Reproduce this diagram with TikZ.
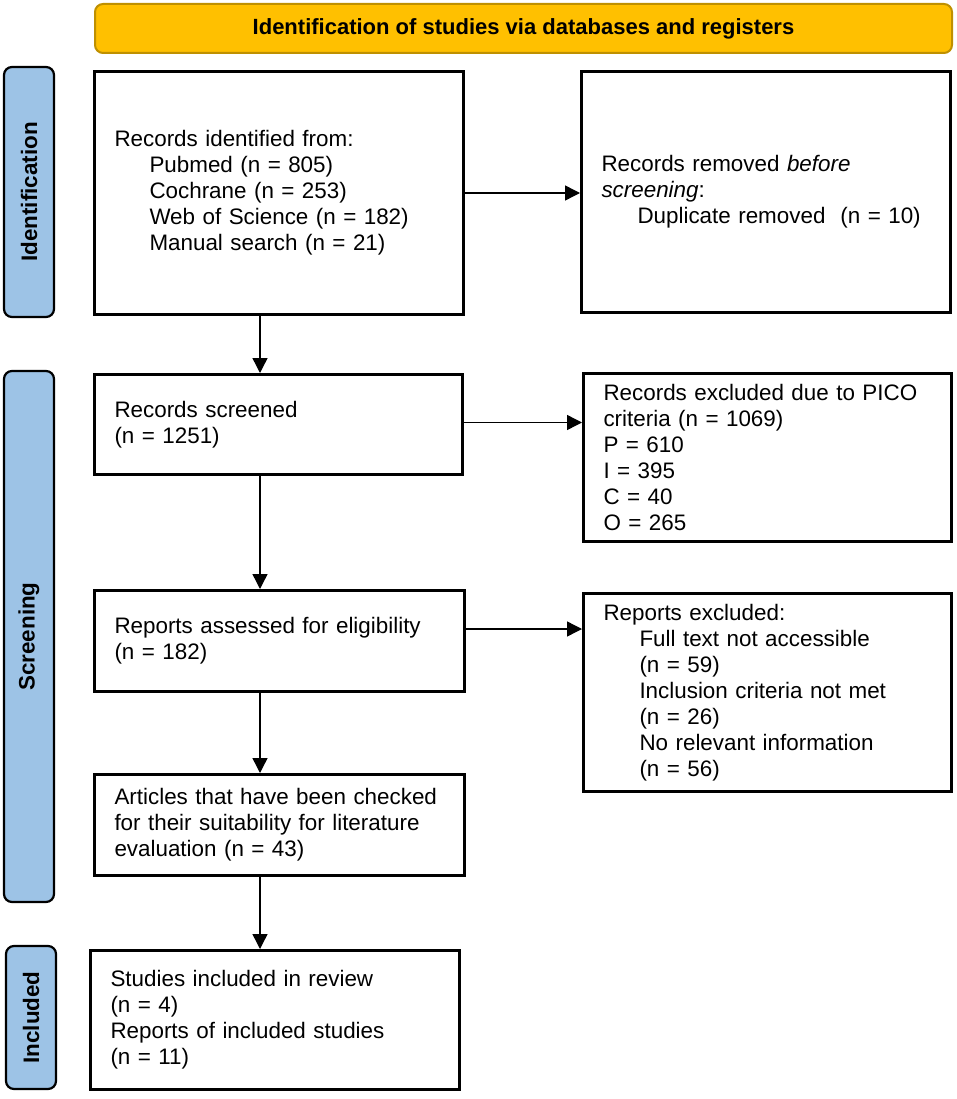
\documentclass[tikz,border=0pt]{standalone}
\usepackage{fontspec}
\setmainfont{Liberation Sans}
\usetikzlibrary{arrows.meta}
\definecolor{bannerfill}{HTML}{FFC000}
\definecolor{bannerdraw}{HTML}{BF9000}
\definecolor{sidefill}{HTML}{9DC3E6}
\begin{document}
\begin{tikzpicture}[x=1pt,y=-1pt,
  box/.style={draw=black, line width=3pt, inner xsep=20pt, inner ysep=4pt, align=left,
    font=\fontsize{22.4pt}{26pt}\selectfont},
  side/.style={draw=black, fill=sidefill, line width=2.2pt, rounded corners=8pt, rotate=90,
    font=\bfseries\fontsize{22.4pt}{26pt}\selectfont, minimum height=50pt, inner sep=0pt},
  arr/.style={line width=1.4pt, -{Triangle[length=15pt,width=15pt]}}]
\useasboundingbox (0,0) rectangle (957,1099);

\node[draw=bannerdraw, fill=bannerfill, line width=2pt, rounded corners=8pt,
  minimum width=857pt, minimum height=49pt, inner sep=0pt,
  font=\bfseries\fontsize{22pt}{26pt}\selectfont] (banner) at (523.5,28.5)
  {Identification of studies via databases and registers};

\node[side, minimum width=250pt] (sid) at (29,192) {Identification};
\node[side, minimum width=531pt] (sscr) at (29,636.5) {Screening};
\node[side, minimum width=143pt] (sinc) at (31,1017.5) {Included};

\node[box, minimum width=369pt, minimum height=243pt, text width=329pt] (b1) at (279,193)
  {Records identified from:\\
   \hspace*{35pt}Pubmed (n = 805)\\
   \hspace*{35pt}Cochrane (n = 253)\\
   \hspace*{35pt}Web of Science (n = 182)\\
   \hspace*{35pt}Manual search (n = 21)};

\node[box, minimum width=369pt, minimum height=241pt, text width=329pt] (b2) at (766,192)
  {Records removed \textit{before}\\
   \textit{screening}:\\
   \hspace*{36pt}Duplicate removed\ \ (n = 10)};

\node[box, minimum width=368pt, minimum height=100pt, text width=328pt] (b3) at (278.5,424.5)
  {Records screened\\(n = 1251)};

\node[box, minimum width=368pt, minimum height=168pt, text width=328pt] (ex) at (767.5,457.5)
  {Records excluded due to PICO\\
   criteria (n = 1069)\\
   P = 610\\
   I = 395\\
   C = 40\\
   O = 265};

\node[box, minimum width=370pt, minimum height=101pt, text width=330pt] (b4) at (279.5,641)
  {Reports assessed for eligibility\\(n = 182)};

\node[box, minimum width=368pt, minimum height=198pt, text width=328pt] (b6) at (767.5,692.5)
  {Reports excluded:\\
   \hspace*{36pt}Full text not accessible\\
   \hspace*{36pt}(n = 59)\\
   \hspace*{36pt}Inclusion criteria not met\\
   \hspace*{36pt}(n = 26)\\
   \hspace*{36pt}No relevant information\\
   \hspace*{36pt}(n = 56)};

\node[box, minimum width=370pt, minimum height=101pt, text width=330pt] (b5) at (279.5,825)
  {Articles that have been checked\\
   for their suitability for literature\\
   evaluation (n = 43)};

\node[box, minimum width=369pt, minimum height=139pt, text width=329pt] (b7) at (275,1020)
  {Studies included in review\\
   (n = 4)\\
   Reports of included studies\\
   (n = 11)};

\coordinate (vx) at (260,0);
\draw[arr] (b1.south -| vx) -- (b3.north -| vx);
\draw[arr] (b3.south -| vx) -- (b4.north -| vx);
\draw[arr] (b4.south -| vx) -- (b5.north -| vx);
\draw[arr] (b5.south -| vx) -- (b7.north -| vx);
\draw[arr] (b1.east) -- (b1.east -| b2.west);
\draw[arr] ([yshift=2pt]b3.east) -- ([yshift=2pt]b3.east -| ex.west);
\draw[arr] ([yshift=12pt]b4.east) -- ([yshift=12pt]b4.east -| b6.west);
\end{tikzpicture}
\end{document}
